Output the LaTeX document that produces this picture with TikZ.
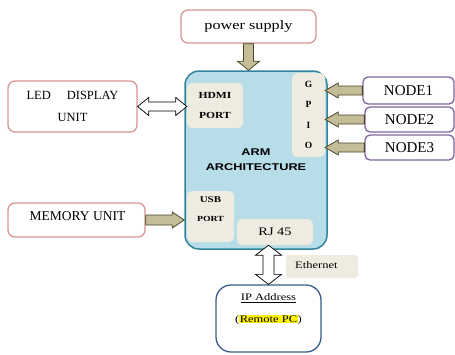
\documentclass[tikz,border=0pt]{standalone}
\usepackage{fontspec}
\setmainfont{Liberation Serif}
\newfontfamily\wideserif[FakeStretch=1.25]{Liberation Serif}
\newfontfamily\armfont[FakeStretch=1.3]{Liberation Sans}
\usetikzlibrary{calc}
\definecolor{pinkline}{HTML}{D99594}
\definecolor{purpline}{HTML}{8064A2}
\definecolor{armfill}{HTML}{B7DDE8}
\definecolor{armline}{HTML}{31849B}
\definecolor{beige}{HTML}{EEECE1}
\definecolor{olivefill}{HTML}{C4BD97}
\definecolor{oliveline}{HTML}{4A452A}
\definecolor{ipline}{HTML}{385D8A}
\tikzset{
  box/.style={draw, line width=1.3pt, rounded corners=7pt, fill=white, inner sep=0pt, align=center},
  pinkbox/.style={box, draw=pinkline},
  nodebox/.style={box, draw=purpline, rounded corners=5pt, font=\fontsize{15}{17}\selectfont},
  inbox/.style={fill=beige, rounded corners=5pt, inner sep=0pt, align=center},
  fatarrow/.style={draw=oliveline, fill=olivefill, line width=0.8pt, line join=miter},
  openarrow/.style={draw=black, fill=white, line width=0.7pt, line join=miter},
  txt/.style={inner sep=0pt, align=center}
}
\begin{document}
\begin{tikzpicture}[x=1pt,y=-1pt]
\useasboundingbox (0,0) rectangle (455,354);
% outer boxes
\node[pinkbox, minimum width=135, minimum height=33, font=\wideserif\fontsize{13}{15}\selectfont] (ps) at (248.5,26.5) {power supply};
\node[pinkbox, minimum width=129, minimum height=51, font=\fontsize{12.5}{22}\selectfont] (led) at (72.5,106.5) {LED\hspace{16pt}DISPLAY\\UNIT};
\node[pinkbox, minimum width=137, minimum height=34] (mem) at (76.5,220) {};
\node[txt, font=\fontsize{13.5}{15}\selectfont] (memt) at (77.5,216) {MEMORY UNIT};
% ARM block
\node[draw=armline, fill=armfill, line width=1.5pt, rounded corners=14pt, minimum width=142, minimum height=178, inner sep=0pt, align=center, font=\armfont\bfseries\fontsize{9.8}{15}\selectfont] (arm) at (256,160) {ARM\\ARCHITECTURE};
\node[inbox, minimum width=56, minimum height=45, font=\wideserif\bfseries\fontsize{9.3}{20}\selectfont] (hdmi) at (215,105.5) {HDMI\\PORT};
\node[inbox, minimum width=33, minimum height=84, font=\bfseries\fontsize{9.5}{20.3}\selectfont] (gpio) at (308.5,115) {G\\P\\I\\O};
\node[inbox, minimum width=47, minimum height=51] (usb) at (210.5,216.5) {};
\node[txt, font=\wideserif\bfseries\fontsize{8.8}{19}\selectfont] (usbt) at (210.5,209.5) {USB\\{\fontsize{7.8}{19}\selectfont PORT}};
\node[inbox, minimum width=76, minimum height=26, font=\wideserif\fontsize{11.5}{13}\selectfont] (rj) at (275,232) {RJ 45};
% GPIO nodes
\node[nodebox, minimum width=91, minimum height=27] (n1) at (408.5,90.5) {NODE1};
\node[nodebox, minimum width=89, minimum height=25] (n2) at (409.5,119.5) {NODE2};
\node[nodebox, minimum width=89, minimum height=25] (n3) at (409.5,147.5) {NODE3};
% Ethernet and IP
\node[fill=beige, rounded corners=3pt, minimum width=72, minimum height=23, inner sep=0pt] (eth) at (322,266.5) {};
\node[txt, anchor=west, font=\wideserif\fontsize{10}{12}\selectfont] (etht) at (295,265) {Ethernet};
\node[box, draw=ipline, rounded corners=15pt, minimum width=105, minimum height=67] (ip) at (268.5,318.5) {};
\node[txt, font=\wideserif\fontsize{10}{22}\selectfont] (ipt) at (268.5,309) {\underline{IP Address}\\({\setlength{\fboxsep}{0.6pt}\colorbox{yellow}{Remote PC}})};
% power arrow
\draw[fatarrow] let \p1=(ps.south), \p2=(arm.north) in
  (\x1-5pt,\y1) -- (\x1+5pt,\y1) -- (\x1+5pt,\y2+9pt) -- (\x1+11pt,\y2+9pt) -- (\x1,\y2)
  -- (\x1-11pt,\y2+9pt) -- (\x1-5pt,\y2+9pt) -- cycle;
% node arrows
\foreach \nd in {n1,n2,n3}{
\draw[fatarrow] let \p1=(\nd.west), \p2=(gpio.east) in
  (\x1,\y1+4.5pt) -- (\x2+13pt,\y1+4.5pt) -- (\x2+13pt,\y1+7.5pt) -- (\x2,\y1)
  -- (\x2+13pt,\y1-7.5pt) -- (\x2+13pt,\y1-4.5pt) -- (\x1,\y1-4.5pt) -- cycle;
}
% memory arrow
\draw[fatarrow] let \p1=(mem.east), \p2=(arm.west) in
  (\x1,\y1+5pt) -- (\x2-12pt,\y1+5pt) -- (\x2-12pt,\y1+8pt) -- (\x2,\y1)
  -- (\x2-12pt,\y1-8pt) -- (\x2-12pt,\y1-5pt) -- (\x1,\y1-5pt) -- cycle;
% LED double arrow
\draw[openarrow] let \p1=(led.east), \p2=(hdmi.west) in
  (\x1,\y1) -- (\x1+11pt,\y1+9pt) -- (\x1+11pt,\y1+4.5pt) -- (\x2-11pt,\y1+4.5pt) -- (\x2-11pt,\y1+9pt)
  -- (\x2,\y1) -- (\x2-11pt,\y1-9pt) -- (\x2-11pt,\y1-4.5pt) -- (\x1+11pt,\y1-4.5pt) -- (\x1+11pt,\y1-9pt) -- cycle;
% Ethernet double arrow
\draw[openarrow] let \p1=(rj.south), \p2=(ip.north) in
  (\x2,\y1) -- (\x2+13pt,\y1-10pt) -- (\x2+5.5pt,\y1-10pt) -- (\x2+5.5pt,\y2+10pt) -- (\x2+13pt,\y2+10pt)
  -- (\x2,\y2) -- (\x2-13pt,\y2+10pt) -- (\x2-5.5pt,\y2+10pt) -- (\x2-5.5pt,\y1-10pt) -- (\x2-13pt,\y1-10pt) -- cycle;
\end{tikzpicture}
\end{document}
